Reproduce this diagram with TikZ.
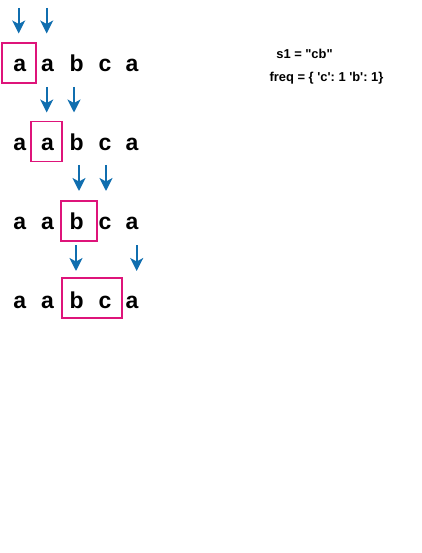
\documentclass[tikz,border=0pt]{standalone}
\usepackage{fontspec}
\setmainfont{Liberation Sans}
\usetikzlibrary{arrows.meta}
\frenchspacing
\definecolor{arrowblue}{RGB}{16,110,175}
\definecolor{boxpink}{RGB}{222,20,122}
\tikzset{
  letter/.style={font=\fontsize{23}{27}\selectfont\bfseries, inner sep=0pt, anchor=base},
  info/.style={font=\fontsize{12.9}{15}\selectfont\bfseries\frenchspacing, inner sep=0pt, anchor=base},
  ptr/.style={draw=arrowblue, line width=1.7pt, -{Stealth[length=13pt,width=13pt,inset=3.5pt]}},
  win/.style={draw=boxpink, line width=1.8pt, fill=none}
}
\begin{document}
\begin{tikzpicture}[x=1pt,y=-1pt]
\useasboundingbox (0,0) rectangle (421,553);
% rows of letters
\foreach \r/\yb in {1/72,2/151,3/229.5,4/308}{
  \node[letter] (l\r a) at (19.8,\yb) {a};
  \node[letter] (l\r b) at (47.5,\yb) {a};
  \node[letter] (l\r c) at (76.7,\yb) {b};
  \node[letter] (l\r d) at (105,\yb) {c};
  \node[letter] (l\r e) at (132,\yb) {a};
}
% windows
\node[win, minimum width=34pt, minimum height=40pt, inner sep=0pt] (w1) at (18.6,63) {};
\node[win, minimum width=31pt, minimum height=40pt, inner sep=0pt] (w2) at (46.6,141.5) {};
\node[win, minimum width=36pt, minimum height=40pt, inner sep=0pt] (w3) at (79,220.7) {};
\node[win, minimum width=60pt, minimum height=40pt, inner sep=0pt] (w4) at (91.7,298) {};
% pointer coordinates
\coordinate (p1s) at (18.7,8);   \coordinate (p1t) at (18.7,33.5);
\coordinate (q1s) at (46.7,8);   \coordinate (q1t) at (46.7,33.5);
\coordinate (p2s) at (46.7,87);  \coordinate (p2t) at (46.7,112.5);
\coordinate (q2s) at (74,87);    \coordinate (q2t) at (74,112.5);
\coordinate (p3s) at (79,165);   \coordinate (p3t) at (79,191);
\coordinate (q3s) at (106,165);  \coordinate (q3t) at (106,191);
\coordinate (p4s) at (76,245);   \coordinate (p4t) at (76,271);
\coordinate (q4s) at (136.7,245); \coordinate (q4t) at (136.7,271);
\foreach \r in {1,2,3,4}{
  \draw[ptr] (p\r s) -- (p\r t);
  \draw[ptr] (q\r s) -- (q\r t);
}
% info texts
\node[info] (s1) at (304.5,58.5) {s1 = \textquotedbl cb\textquotedbl};
\node[info] (freq) at (326.5,81.3) {freq = \{ \textquotesingle c\textquotesingle: 1 \textquotesingle b\textquotesingle: 1\}};
\end{tikzpicture}
\end{document}
